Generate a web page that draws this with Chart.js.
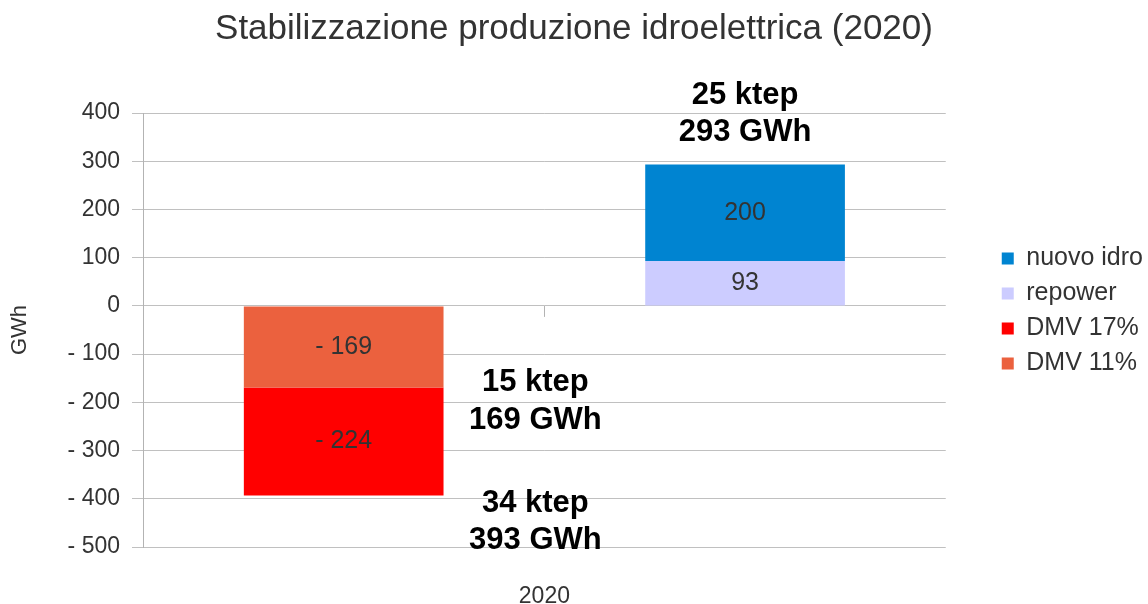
<!DOCTYPE html>
<html><head><meta charset="utf-8">
<script src="https://cdn.jsdelivr.net/npm/chart.js@4.4.0/dist/chart.umd.min.js"></script>
<style>html,body{margin:0;padding:0;background:#fff}</style>
</head><body>
<canvas id="c" width="1148" height="604" style="width:1148px;height:604px;display:block"></canvas>
<script>
const categories = ['2020'];
const dmv11 = [-169];
const dmv17 = [-224];
const repower = [93];
const nuovoIdro = [200];
const seriesNames = ['DMV 11%', 'DMV 17%', 'repower', 'nuovo idro'];
const seriesColors = ['#eb613e', '#ff0000', '#ccccff', '#0084d1'];
const yMin = -500, yMax = 400, yStep = 100;
const totalKtep = [25, 15, 34];
const totalGWh = [293, 169, 393];

const FONT = "'Liberation Sans', Arial, sans-serif";

function fmt(v) { return v < 0 ? '- ' + Math.abs(v) : String(v); }

const valueLabels = {
  id: 'valueLabels',
  afterDatasetsDraw(chart) {
    const ctx = chart.ctx;
    ctx.save();
    ctx.font = '25px ' + FONT;
    ctx.fillStyle = '#333333';
    ctx.textAlign = 'center';
    ctx.textBaseline = 'middle';
    chart.data.datasets.forEach((ds, di) => {
      chart.getDatasetMeta(di).data.forEach((el, i) => {
        ctx.fillText(fmt(ds.data[i]), el.x, (el.y + el.base) / 2);
      });
    });
    ctx.restore();
  }
};

const totals = {
  id: 'totals',
  afterDraw(chart) {
    const ctx = chart.ctx, ys = chart.scales.y, xs = chart.scales.x;
    const posTop = repower[0] + nuovoIdro[0];
    const neg1 = dmv11[0];
    const neg2 = dmv11[0] + dmv17[0];
    const rightX = chart.getDatasetMeta(3).data[0].x;
    const leftX = xs.getPixelForValue(0) - 9;
    ctx.save();
    ctx.font = 'bold 31px ' + FONT;
    ctx.fillStyle = '#000';
    ctx.textAlign = 'center';
    ctx.textBaseline = 'middle';
    const items = [
      [rightX, ys.getPixelForValue(posTop), -69, -32, 0],
      [leftX, ys.getPixelForValue(neg1), -5, 33, 1],
      [leftX, ys.getPixelForValue(neg2), 8, 45, 2]
    ];
    items.forEach(([x, y, o1, o2, k]) => {
      ctx.fillText(totalKtep[k] + ' ktep', x, y + o1);
      ctx.fillText(totalGWh[k] + ' GWh', x, y + o2);
    });
    ctx.restore();
  }
};

const axisTick = {
  id: 'axisTick',
  beforeDatasetsDraw(chart) {
    const ctx = chart.ctx;
    const x = Math.round(chart.scales.x.getPixelForValue(0)) + 0.5;
    const y = chart.scales.y.getPixelForValue(0);
    ctx.save();
    ctx.strokeStyle = '#b3b3b3';
    ctx.lineWidth = 1;
    ctx.beginPath();
    ctx.moveTo(x, y);
    ctx.lineTo(x, y + 11);
    ctx.stroke();
    ctx.restore();
  }
};

const legendShift = {
  id: 'legendShift',
  afterLayout(chart) {
    chart.legend.top += 9;
    chart.legend.bottom += 9;
    chart.legend.left += 5;
    chart.legend.right += 5;
  }
};

const data = [dmv11, dmv17, repower, nuovoIdro];
const stacks = ['neg', 'neg', 'pos', 'pos'];

new Chart(document.getElementById('c'), {
  type: 'bar',
  data: {
    labels: categories,
    datasets: data.map((d, i) => ({
      label: seriesNames[i],
      data: d,
      backgroundColor: seriesColors[i],
      borderWidth: 0,
      stack: stacks[i],
      barPercentage: 0.4975,
      categoryPercentage: 1.0
    }))
  },
  options: {
    responsive: false,
    animation: false,
    layout: { padding: 0 },
    plugins: {
      title: {
        display: true,
        text: 'Stabilizzazione produzione idroelettrica (2020)',
        color: '#333333',
        font: { family: FONT, size: 35, weight: 'normal' },
        padding: { top: 8, bottom: 63 }
      },
      legend: {
        position: 'right',
        reverse: true,
        labels: {
          boxWidth: 12, boxHeight: 12,
          color: '#333333',
          font: { family: FONT, size: 25 },
          padding: 10
        }
      },
      tooltip: { enabled: false }
    },
    scales: {
      x: {
        stacked: true,
        grid: { display: false },
        border: { display: false },
        ticks: { color: '#333333', font: { family: FONT, size: 23 }, padding: 28 },
        afterFit(s) { s.height = 57; }
      },
      y: {
        stacked: true,
        min: yMin, max: yMax,
        ticks: {
          stepSize: yStep,
          color: '#333333',
          font: { family: FONT, size: 23 },
          padding: 12,
          callback: (v) => fmt(v)
        },
        grid: { color: '#c0c0c0', tickLength: 11, drawTicks: true },
        border: { color: '#b3b3b3' },
        title: {
          display: true, text: 'GWh', color: '#333333',
          font: { family: FONT, size: 22 }, padding: { top: 7, bottom: 0 }
        },
        afterFit(s) { s.width = 143; }
      },
      yR: {
        position: 'right',
        display: true,
        grid: { display: false },
        border: { display: false },
        ticks: { display: false },
        afterFit(s) { s.width = 41; }
      }
    }
  },
  plugins: [valueLabels, totals, axisTick, legendShift]
});
</script>
</body></html>
